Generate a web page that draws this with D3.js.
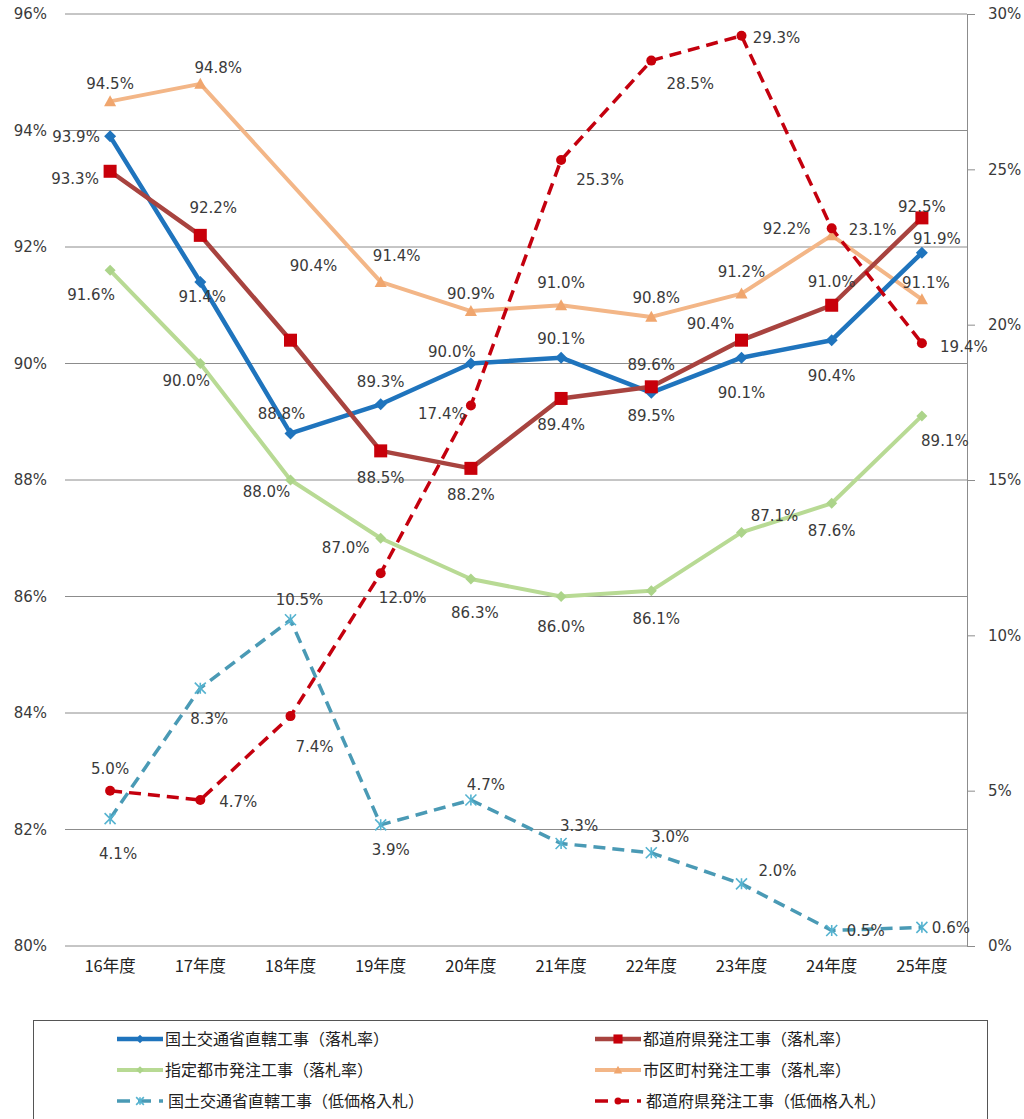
<!DOCTYPE html>
<html lang="ja">
<head>
<meta charset="utf-8">
<script src="https://cdn.jsdelivr.net/npm/d3@7"></script>
<style>
  html, body { margin: 0; padding: 0; background: #fff; }
  svg { display: block; }
  .num { font-family: "DejaVu Sans", sans-serif; font-size: 15px; fill: #3a3a3a; }
  .jp { font-family: "Noto Sans CJK JP", sans-serif; fill: #222; }
</style>
</head>
<body>
<svg id="chart" width="1024" height="1119"></svg>
<script>
// 年度
const categories = ["16年度", "17年度", "18年度", "19年度", "20年度", "21年度", "22年度", "23年度", "24年度", "25年度"];

// 落札率（左軸, %）
const mlitRate   = [93.9, 91.4, 88.8, 89.3, 90.0, 90.1, 89.5, 90.1, 90.4, 91.9];
const prefRate   = [93.3, 92.2, 90.4, 88.5, 88.2, 89.4, 89.6, 90.4, 91.0, 92.5];
const cityRate   = [91.6, 90.0, 88.0, 87.0, 86.3, 86.0, 86.1, 87.1, 87.6, 89.1];
const muniRate   = [94.5, 94.8, null, 91.4, 90.9, 91.0, 90.8, 91.2, 92.2, 91.1];

// 低価格入札の割合（右軸, %）
const mlitLow    = [4.1, 8.3, 10.5, 3.9, 4.7, 3.3, 3.0, 2.0, 0.5, 0.6];
const prefLow    = [5.0, 4.7, 7.4, 12.0, 17.4, 25.3, 28.5, 29.3, 23.1, 19.4];

// 軸目盛
const leftTicks  = [80, 82, 84, 86, 88, 90, 92, 94, 96];
const rightTicks = [0, 5, 10, 15, 20, 25, 30];

// 凡例名
const seriesNames = [
  "国土交通省直轄工事（落札率）",
  "都道府県発注工事（落札率）",
  "指定都市発注工事（落札率）",
  "市区町村発注工事（落札率）",
  "国土交通省直轄工事（低価格入札）",
  "都道府県発注工事（低価格入札）"
];

// データラベルの位置（点からのずれ, px）
const mlitRateLbl = [[-34,0],[2,15],[-9,-20],[0,-23],[-19,-12],[0,-19],[0,23],[0,35],[0,35],[15,-14]];
const prefRateLbl = [[-35,7],[13,-28],[23,-75],[0,27],[0,26],[0,26],[0,-22],[-31,-17],[0,-24],[0,-11]];
const cityRateLbl = [[-19,24],[-14,17],[-24,12],[-35,9],[4,34],[0,30],[5,28],[33,-17],[0,27],[23,25]];
const muniRateLbl = [[0,-18],[18,-16],null,[16,-26],[0,-17],[0,-23],[5,-19],[0,-22],[-45,-7],[4,-17]];
const mlitLowLbl  = [[8,35],[9,30],[9,-20],[10,25],[15,-15],[18,-18],[19,-16],[36,-13],[34,0],[29,0]];
const prefLowLbl  = [[0,-22],[38,2],[24,30],[22,24],[-29,8],[39,20],[39,23],[35,2],[41,1],[42,3]];

const svg = d3.select("#chart");

const plot = { left: 65, right: 967, top: 14, bottom: 946 };

const x = d3.scaleBand().domain(categories).range([plot.left, plot.right]);
const cx = c => x(c) + x.bandwidth() / 2;
const yL = d3.scaleLinear().domain([80, 96]).range([plot.bottom, plot.top]);
const yR = d3.scaleLinear().domain([0, 30]).range([plot.bottom, plot.top]);

// 横グリッド線（左軸目盛）
svg.append("g")
  .selectAll("line")
  .data(leftTicks)
  .join("line")
  .attr("x1", plot.left).attr("x2", plot.right)
  .attr("y1", d => yL(d)).attr("y2", d => yL(d))
  .attr("stroke", "#8c8c8c").attr("stroke-width", 1);

// 左軸ラベル
svg.append("g")
  .selectAll("text")
  .data(leftTicks)
  .join("text")
  .attr("class", "num")
  .attr("x", 47).attr("y", d => yL(d))
  .attr("dy", "0.36em")
  .attr("text-anchor", "end")
  .text(d => d + "%");

// 右軸
const rightAxis = d3.axisRight(yR)
  .tickValues(rightTicks)
  .tickSize(8)
  .tickPadding(13)
  .tickFormat(d => d + "%");
const gR = svg.append("g")
  .attr("transform", `translate(${plot.right},0)`)
  .call(rightAxis);
gR.select(".domain").attr("stroke", "#8c8c8c");
gR.selectAll(".tick line").attr("stroke", "#8c8c8c");
gR.selectAll(".tick text")
  .attr("class", "num")
  .attr("font-size", null).attr("font-family", null)
  .attr("fill", null);

// 横軸ラベル
svg.append("g")
  .selectAll("text")
  .data(categories)
  .join("text")
  .attr("class", "jp")
  .attr("x", d => cx(d)).attr("y", 966)
  .attr("dy", "0.35em")
  .attr("text-anchor", "middle")
  .attr("font-size", 16.5)
  .text(d => d);

// マーカー形状
function drawMarker(g, kind, color, size) {
  const s = size;
  if (kind === "diamond") {
    g.append("path").attr("d", `M0,${-s/2}L${s/2},0L0,${s/2}L${-s/2},0Z`).attr("fill", color);
  } else if (kind === "square") {
    g.append("rect").attr("x", -s/2).attr("y", -s/2).attr("width", s).attr("height", s).attr("fill", color);
  } else if (kind === "triangle") {
    g.append("path").attr("d", `M0,${-s*0.55}L${s*0.55},${s*0.45}L${-s*0.55},${s*0.45}Z`).attr("fill", color);
  } else if (kind === "circle") {
    g.append("circle").attr("r", s/2).attr("fill", color);
  } else if (kind === "star") {
    const h = s / 2;
    g.append("path")
      .attr("d", `M${-h},${-h}L${h},${h}M${-h},${h}L${h},${-h}M0,${-h}L0,${h}`)
      .attr("stroke", color).attr("stroke-width", 1.6).attr("fill", "none");
  }
}

const series = [
  { name: seriesNames[0], values: mlitRate, y: yL, color: "#1f74bd", marker: "diamond", mColor: "#1f74bd", mSize: 12, width: 4.5, dash: null, lbl: mlitRateLbl },
  { name: seriesNames[1], values: prefRate, y: yL, color: "#a8433f", marker: "square",  mColor: "#c8000a", mSize: 13, width: 4.5, dash: null, lbl: prefRateLbl },
  { name: seriesNames[2], values: cityRate, y: yL, color: "#b8da94", marker: "diamond", mColor: "#acd48a", mSize: 11, width: 4, dash: null, lbl: cityRateLbl },
  { name: seriesNames[3], values: muniRate, y: yL, color: "#f3b687", marker: "triangle", mColor: "#f0a66e", mSize: 11, width: 4, dash: null, lbl: muniRateLbl },
  { name: seriesNames[4], values: mlitLow,  y: yR, color: "#4a9ab5", marker: "star",    mColor: "#56b3d0", mSize: 11, width: 3.5, dash: "12,7", lbl: mlitLowLbl },
  { name: seriesNames[5], values: prefLow,  y: yR, color: "#c4000e", marker: "circle",  mColor: "#c8000a", mSize: 10, width: 3.5, dash: "12,7", lbl: prefLowLbl }
];

const drawOrder = [3, 2, 0, 1, 4, 5];

drawOrder.forEach(i => {
  const s = series[i];
  const pts = categories
    .map((c, k) => ({ c, v: s.values[k], k }))
    .filter(p => p.v !== null);
  const line = d3.line().x(p => cx(p.c)).y(p => s.y(p.v));
  const g = svg.append("g");
  g.append("path")
    .datum(pts)
    .attr("d", line)
    .attr("fill", "none")
    .attr("stroke", s.color)
    .attr("stroke-width", s.width)
    .attr("stroke-linejoin", "round")
    .attr("stroke-dasharray", s.dash);
  pts.forEach(p => {
    const m = g.append("g").attr("transform", `translate(${cx(p.c)},${s.y(p.v)})`);
    drawMarker(m, s.marker, s.mColor, s.mSize);
  });
});

// データラベル
drawOrder.forEach(i => {
  const s = series[i];
  const g = svg.append("g");
  categories.forEach((c, k) => {
    const v = s.values[k];
    const off = s.lbl[k];
    if (v === null || !off) return;
    g.append("text")
      .attr("class", "num")
      .attr("x", cx(c) + off[0])
      .attr("y", s.y(v) + off[1])
      .attr("dy", "0.36em")
      .attr("text-anchor", "middle")
      .text(v.toFixed(1) + "%");
  });
});

// 凡例
const legend = svg.append("g");
legend.append("rect")
  .attr("x", 33.5).attr("y", 1020.5)
  .attr("width", 954).attr("height", 110)
  .attr("fill", "none").attr("stroke", "#555").attr("stroke-width", 1);

const legendCols = [117, 595];
const legendRows = [1039, 1070, 1101];
series.forEach((s, i) => {
  const col = i % 2, row = Math.floor(i / 2);
  const x0 = legendCols[col], yy = legendRows[row];
  const g = legend.append("g");
  g.append("line")
    .attr("x1", x0).attr("x2", x0 + 46)
    .attr("y1", yy).attr("y2", yy)
    .attr("stroke", s.color)
    .attr("stroke-width", s.width)
    .attr("stroke-dasharray", s.dash ? "13,8" : null);
  const m = g.append("g").attr("transform", `translate(${x0 + 23},${yy})`);
  drawMarker(m, s.marker, s.mColor, s.mSize * 0.7);
  g.append("text")
    .attr("class", "jp")
    .attr("x", x0 + 48 + (s.dash ? 3 : 0))
    .attr("y", yy)
    .attr("dy", "0.35em")
    .attr("font-size", 16)
    .text(s.name);
});
</script>
</body>
</html>
